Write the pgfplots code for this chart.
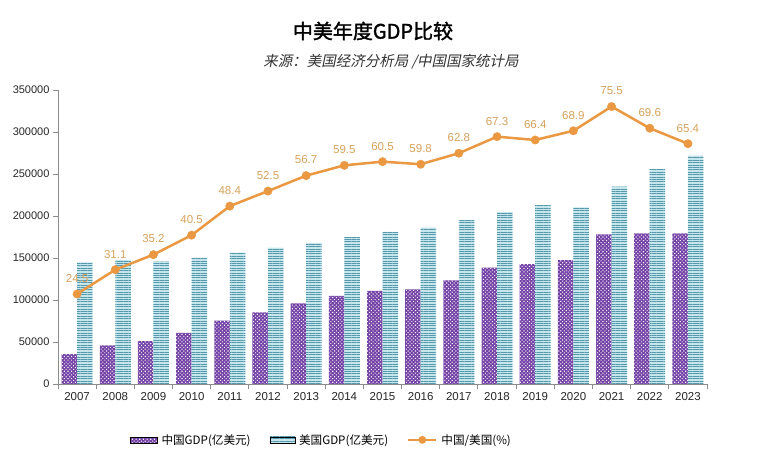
\documentclass[border=0pt]{standalone}
\usepackage{fontspec}
\setmainfont{Liberation Sans}
\newfontfamily\cjk{Noto Sans CJK SC}
\newfontfamily\cjkit[FakeSlant=0.2]{Noto Sans CJK SC}
\newfontfamily\cjkbf[FakeBold=1.5]{Noto Sans CJK SC}
\usepackage{pgfplots}
\usepackage{pgfplotstable}
\pgfplotsset{compat=1.18}
\usetikzlibrary{patterns.meta}
\definecolor{cnpurple}{HTML}{7442A6}
\definecolor{usfill}{HTML}{C4E6EC}
\definecolor{usline}{HTML}{5798AA}
\definecolor{lineorange}{HTML}{EA9842}
\definecolor{labeltan}{HTML}{D6A15C}
\definecolor{axisgray}{HTML}{8C8C8C}
\tikzset{
  cnbar/.style={fill=cnpurple, draw=none, postaction={pattern={Dots[angle=45,distance=2.6pt,radius=0.75pt]}, pattern color=white}},
  usbar/.style={fill=usfill, draw=none, postaction={pattern={Lines[angle=0,distance=2.4pt,line width=0.9pt]}, pattern color=usline}},
}
\pgfplotstableread{
x year cn us r
0 2007 35500 144800 24.5
1 2008 45900 147600 31.1
2 2009 51000 145600 35.2
3 2010 60900 150500 40.5
4 2011 75500 156500 48.4
5 2012 85300 162400 52.5
6 2013 96000 168000 56.7
7 2014 104800 175000 59.5
8 2015 111000 181000 60.5
9 2016 112500 186000 59.8
10 2017 123500 195000 62.8
11 2018 138600 205000 67.3
12 2019 142600 213300 66.4
13 2020 147600 210400 68.9
14 2021 178000 235000 75.5
15 2022 179300 256000 69.6
16 2023 179300 271500 65.4
}\gdpdata
\begin{document}
\begin{tikzpicture}
\path[use as bounding box] (-58pt,-81pt) rectangle (701pt,384pt);
\begin{axis}[
  at={(0pt,0pt)}, anchor=south west,
  scale only axis, width=649pt, height=294pt,
  xmin=-0.5, xmax=16.5, ymin=0, ymax=350000,
  ybar=0pt, bar width=15.5pt,
  xtick={0,...,16},
  xticklabels={2007,2008,2009,2010,2011,2012,2013,2014,2015,2016,2017,2018,2019,2020,2021,2022,2023},
  ytick={0,50000,100000,150000,200000,250000,300000,350000},
  scaled y ticks=false,
  yticklabel={\pgfmathprintnumber[fixed,precision=0,set thousands separator={},assume math mode=true]{\tick}},
  yticklabel style={font=\fontsize{11}{13}\selectfont, text=black!85},
  xticklabel style={font=\fontsize{11.5}{13}\selectfont, text=black!85},
  tick align=outside,
  major tick length=5pt,
  axis x line*=bottom, axis y line*=left,
  x axis line style={-}, y axis line style={-},
  axis line style={draw=axisgray, line width=0.9pt},
  major x tick style={draw=none},
  minor xtick={-0.5,0.5,...,16.5},
  minor x tick style={draw=axisgray, line width=0.9pt},
  minor tick length=5pt,
  y tick style={draw=axisgray, line width=0.9pt},
  clip=false,
]
\addplot[cnbar] table[x=x,y=cn]{\gdpdata};
\addplot[usbar] table[x=x,y=us]{\gdpdata};
\end{axis}
\begin{axis}[
  at={(0pt,0pt)}, anchor=south west,
  scale only axis, width=649pt, height=294pt,
  xmin=-0.5, xmax=16.5, ymin=0, ymax=80,
  hide axis, clip=false,
  legend style={at={(0.406,-0.19)}, anchor=center, draw=none, fill=none,
    legend columns=3, font=\cjk\fontsize{11.6}{14}\selectfont,
    /tikz/every even column/.append style={column sep=17pt},
    /tikz/every odd column/.append style={column sep=2pt}},
]
\addlegendimage{legend image code/.code={\path[cnbar] (0pt,-3pt) rectangle (27pt,3pt);}}
\addlegendentry{中国GDP(亿美元)}
\addlegendimage{legend image code/.code={\path[usbar] (0pt,-3pt) rectangle (25pt,3pt);}}
\addlegendentry{美国GDP(亿美元)}
\addplot[lineorange, line width=2.5pt, mark=*, mark size=4.2pt,
  mark options={line width=0.4pt, fill=lineorange},
  nodes near coords={\pgfmathprintnumber[fixed,precision=1,fixed zerofill,assume math mode=true]{\pgfplotspointmeta}},
  nodes near coords style={font=\fontsize{11.5}{13}\selectfont, text=labeltan, yshift=8pt},
  legend image code/.code={\draw[lineorange, line width=2.2pt] (0pt,0pt) -- (28pt,0pt); \fill[lineorange] (14pt,0pt) circle (2.6pt);}
] table[x=x,y=r]{\gdpdata};
\addlegendentry{中国/美国(\%)}
\end{axis}
\node[font=\cjkbf\fontsize{20}{24}\selectfont] at (315pt,353pt) {中美年度GDP比较};
\node[font=\cjkit\fontsize{14.5}{17}\selectfont, text=black!80] at (333pt,322pt) {来源：美国经济分析局 /中国国家统计局};
\end{tikzpicture}
\end{document}
